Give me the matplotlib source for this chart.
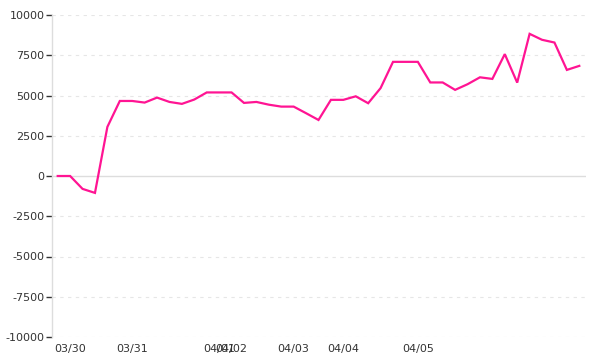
import matplotlib
matplotlib.use("Agg")
import matplotlib.pyplot as plt

values = [0, 0, -800, -1050, 3050, 4660, 4660, 4560, 4870, 4600, 4480, 4750,
          5190, 5190, 5190, 4540, 4600, 4430, 4310, 4310, 3900, 3480, 4730, 4730,
          4950, 4520, 5460, 7090, 7090, 7090, 5810, 5810, 5350, 5700, 6130, 6030,
          7570, 5800, 8830, 8460, 8290, 6590, 6840]
tick_idx = [1, 6, 13, 14, 19, 23, 29]
tick_labels = ["03/30", "03/31", "04/01", "04/02", "04/03", "04/04", "04/05"]
y_ticks = [-10000, -7500, -5000, -2500, 0, 2500, 5000, 7500, 10000]

fig = plt.figure(figsize=(6, 3.6), dpi=100)
ax = fig.add_axes([51.5/600, (360-337)/360, 534/600, 322/360])

x = list(range(len(values)))
ax.plot(x, values, color="#ff1493", lw=1.6, solid_joinstyle="miter", zorder=3)

ax.set_xlim(-0.5, len(values) - 0.5)
ax.set_ylim(-10000, 10000)
ax.set_yticks(y_ticks)
ax.set_yticklabels([str(v) for v in y_ticks])
ax.set_xticks(tick_idx)
ax.set_xticklabels(tick_labels)

for v in y_ticks:
    if v == 0:
        ax.axhline(v, color="#dddddd", lw=1.0, zorder=1)
    else:
        ax.axhline(v, color="#e6e6e6", lw=0.8, ls=(0, (3, 4)), zorder=1)

for s in ["top", "right", "bottom"]:
    ax.spines[s].set_visible(False)
ax.spines["left"].set_color("#dddddd")
ax.spines["left"].set_linewidth(1.0)

ax.tick_params(axis="y", length=4, width=1, color="#333333", labelcolor="#333333",
               labelsize=8, pad=1)
ax.tick_params(axis="x", length=0, labelcolor="#333333", labelsize=8, pad=5)

fig.savefig("out.png", dpi=100, facecolor="white")
